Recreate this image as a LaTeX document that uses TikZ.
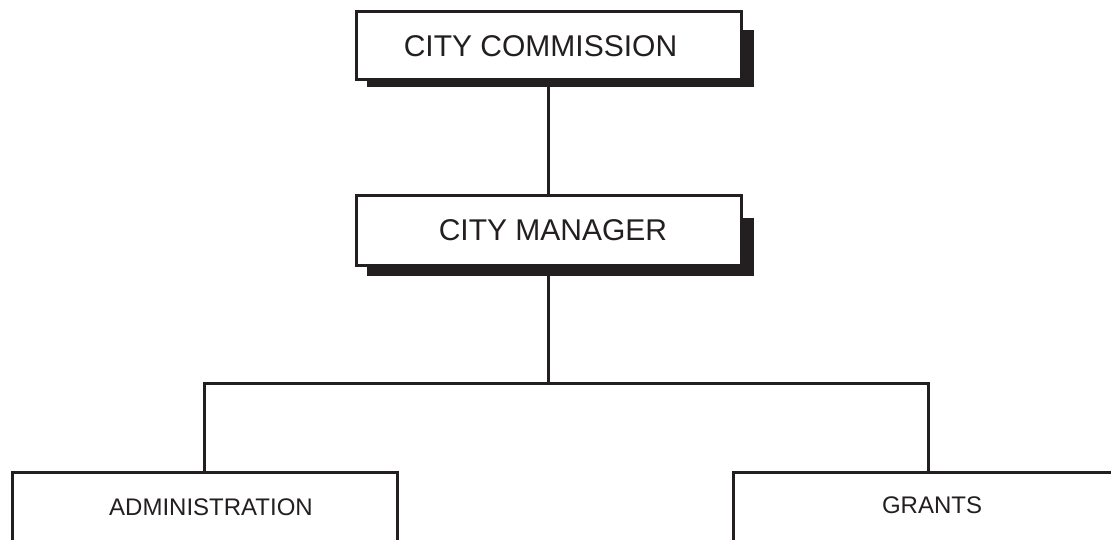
\documentclass[tikz,border=0pt]{standalone}
\usepackage{fontspec}
\setmainfont{Liberation Sans}
\usetikzlibrary{calc}
\definecolor{ink}{RGB}{35,31,32}
\tikzset{
  topbox/.style={draw=ink, line width=3pt, fill=white, rectangle, outer sep=0pt,
    inner sep=0pt, text=ink, font=\fontsize{30}{36}\selectfont,
    minimum width=385pt},
  lowbox/.style={draw=ink, line width=3pt, fill=white, rectangle, outer sep=0pt,
    inner sep=0pt, minimum height=140pt},
  lowtext/.style={text=ink, inner sep=0pt, font=\fontsize{24}{29}\selectfont},
  shadowfill/.style={fill=ink},
  link/.style={draw=ink, line width=3pt}
}
\begin{document}
\begin{tikzpicture}[x=1pt, y=-1pt]
  \useasboundingbox (0,0) rectangle (1111,540);
  \clip (0,0) rectangle (1111,540);

  % drop shadows sit behind the two upper boxes
  \coordinate (shA1) at (367,30);
  \coordinate (shA2) at (754,87);
  \coordinate (shB1) at (367,218);
  \coordinate (shB2) at (754,276);
  \fill[shadowfill] (shA1) rectangle (shA2);
  \fill[shadowfill] (shB1) rectangle (shB2);

  % upper boxes
  \node[topbox, minimum height=68pt] (comm) at (548.5,46) {CITY COMMISSION\hspace*{16pt}};
  \node[topbox, minimum height=69pt] (mgr) at (548.5,230.5) {\hspace*{9pt}CITY MANAGER};

  % lower boxes run past the bottom edge
  \node[lowbox, minimum width=385pt] (adm) at (204.5,542.5) {};
  \node[lowbox, minimum width=390pt] (grt) at (928,542.5) {};
  \node[lowtext] (admtext) at (211,507) {ADMINISTRATION};
  \node[lowtext] (grttext) at (932,505) {GRANTS};

  % connectors
  \coordinate (bus) at (548.5,383);
  \draw[link] (comm.south) -- (mgr.north);
  \draw[link] (mgr.south) -- (bus);
  \draw[link] (adm.north) |- (bus) -| (grt.north);
\end{tikzpicture}
\end{document}
